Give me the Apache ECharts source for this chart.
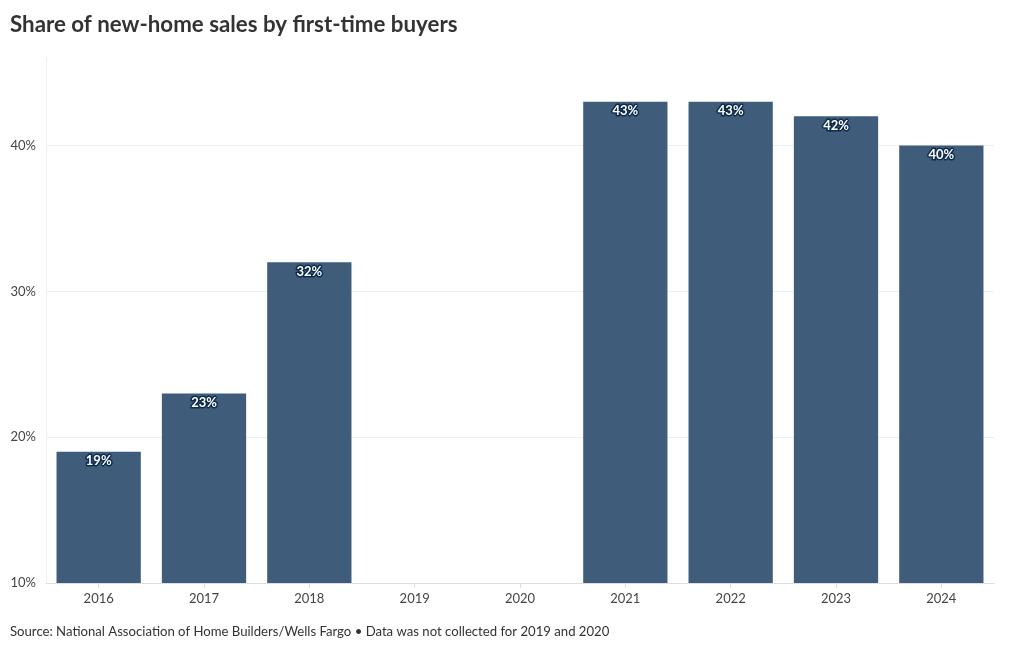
<!DOCTYPE html>
<html><head><meta charset="utf-8">
<script src="https://cdn.jsdelivr.net/npm/echarts@6/dist/echarts.min.js"></script>
<style>html,body{margin:0;padding:0;background:#fff}#c{width:1020px;height:650px}</style>
</head><body><div id="c"></div>
<script>
const categories = ['2016','2017','2018','2019','2020','2021','2022','2023','2024'];
const shares = [19, 23, 32, null, null, 43, 43, 42, 40];
const yTicks = [10, 20, 30, 40];
const titleText = 'Share of new-home sales by first-time buyers';
const sourceText = 'Source: National Association of Home Builders/Wells Fargo \u2022 Data was not collected for 2019 and 2020';

const chart = echarts.init(document.getElementById('c'));
chart.setOption({
  animation: false,
  textStyle: { fontFamily: 'Lato' },
  title: [
    { text: titleText, left: 5, top: 9, textStyle: { fontFamily: 'Lato', fontWeight: 'bold', fontSize: 22.3, color: '#333' } },
    { text: sourceText, left: 5, top: 620, textStyle: { fontFamily: 'Lato', fontWeight: 'normal', fontSize: 13.15, color: '#333' } }
  ],
  grid: { left: 46, right: 26, top: 58, bottom: 67, containLabel: false },
  xAxis: {
    type: 'category', data: categories,
    axisLine: { show: true, lineStyle: { color: '#ddd' } },
    axisTick: { show: true, alignWithLabel: true, length: 5, lineStyle: { color: '#ddd' } },
    axisLabel: { color: '#444', fontSize: 13, margin: 9, fontFamily: 'Lato' }
  },
  yAxis: {
    type: 'value', min: 10, max: 46, interval: 10,
    axisLine: { show: true, lineStyle: { color: '#eee' } },
    axisTick: { show: false },
    splitLine: { show: true, showMaxLine: false, lineStyle: { color: '#eee' } },
    axisLabel: {
      color: '#444', fontSize: 13, margin: 10, fontFamily: 'Lato',
      formatter: v => yTicks.includes(v) ? v + '%' : ''
    }
  },
  series: [{
    type: 'bar', data: shares, barCategoryGap: '20%',
    itemStyle: { color: '#3f5d7a' },
    label: {
      show: true, position: 'insideTop', distance: 3,
      formatter: p => p.value + '%',
      color: '#fff', fontSize: 13, fontWeight: 'bold', fontFamily: 'Lato',
      textBorderColor: '#0d2b4a', textBorderWidth: 3
    }
  }]
});
</script></body></html>
